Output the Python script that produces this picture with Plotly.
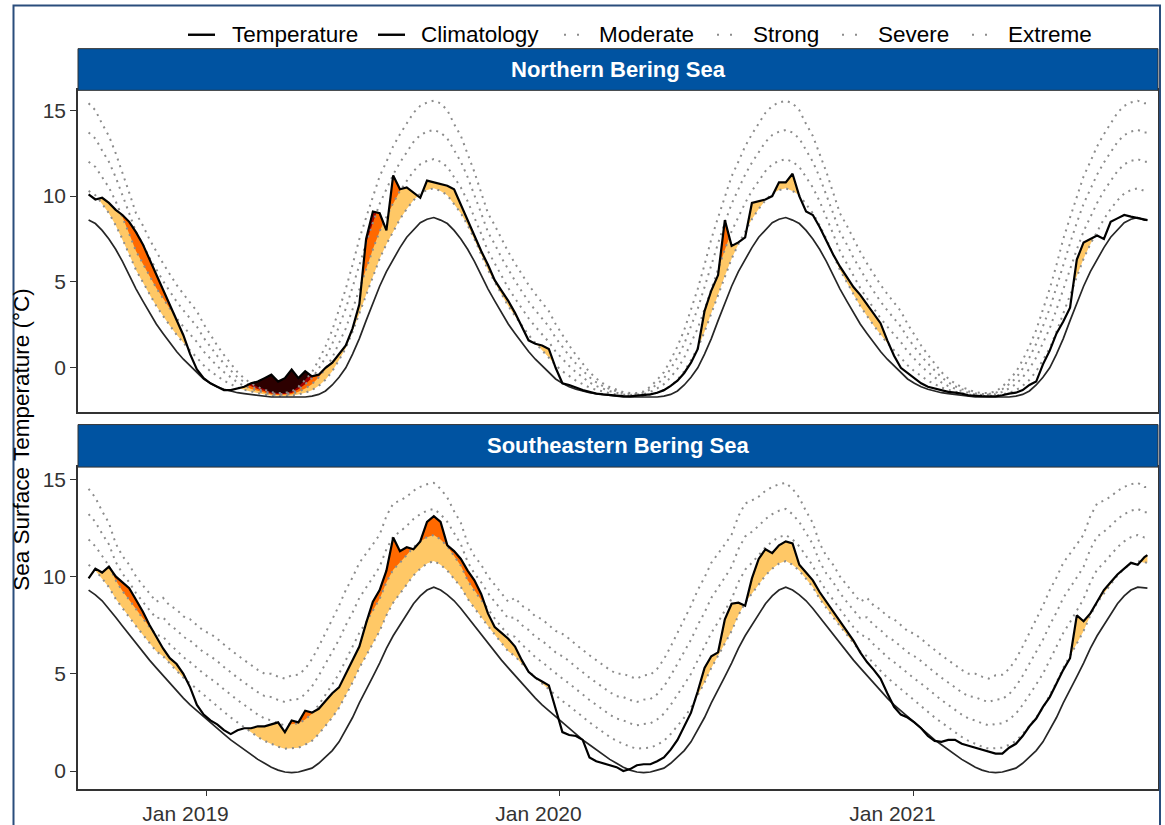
import plotly.graph_objects as go
import pandas as pd
import numpy as np

# ---------------- DATA ----------------
# weekly sampling dates (Sep 2018 - Aug 2021)
dates = list(pd.date_range("2018-09-01", periods=157, freq="7D")) + [pd.Timestamp("2021-08-31")]

nbs_temp = [10.1, 9.8, 9.9, 9.6, 9.2, 8.9, 8.5, 7.9, 7.2, 6.3,
            5.4, 4.6, 3.6, 2.8, 1.9, 0.8, -0.1, -0.6, -0.9, -1.1,
            -1.3, -1.3, -1.2, -1.1, -0.9, -0.8, -0.6, -0.4, -0.8, -0.6,
            -0.1, -0.6, -0.2, -0.5, -0.4, 0.0, 0.3, 0.8, 1.3, 2.3,
            3.7, 7.5, 9.1, 9.0, 8.0, 11.2, 10.4, 10.5, 10.2, 9.9,
            10.9, 10.8, 10.7, 10.6, 10.4, 9.5, 8.6, 7.6, 6.8, 6.0,
            5.1, 4.5, 3.9, 3.2, 2.4, 1.6, 1.4, 1.3, 1.1, 0.0,
            -0.9, -1.0, -1.15, -1.3, -1.4, -1.5, -1.55, -1.6, -1.62, -1.65,
            -1.66, -1.62, -1.6, -1.55, -1.45, -1.3, -1.05, -0.75, -0.3, 0.3,
            1.1, 3.3, 4.5, 5.4, 8.6, 7.1, 7.3, 7.6, 9.6, 9.7,
            9.8, 10.0, 10.8, 10.8, 11.3, 10.0, 9.1, 8.9, 8.2, 7.4,
            6.6, 5.9, 5.3, 4.7, 4.25, 3.7, 3.2, 2.6, 1.6, 0.7,
            0.0, -0.3, -0.6, -0.9, -1.1, -1.2, -1.3, -1.4, -1.45, -1.5,
            -1.6, -1.64, -1.65, -1.66, -1.66, -1.6, -1.5, -1.45, -1.3, -1.0,
            -0.8, 0.2, 1.0, 2.0, 2.7, 3.5, 6.3, 7.3, 7.5, 7.7,
            7.5, 8.5, 8.7, 8.9, 8.8, 8.7, 8.6, 8.6]

nbs_clim = [8.6, 8.4, 8.0, 7.5, 6.9, 6.2, 5.4, 4.6, 3.9, 3.2, 2.55, 2.0, 1.45, 0.95, 0.5, 0.1,
            -0.3, -0.65, -0.9, -1.1, -1.25, -1.35, -1.45, -1.5, -1.55, -1.6, -1.65, -1.7, -1.7, -1.7,
            -1.7, -1.7, -1.7, -1.65, -1.55, -1.35, -1.0, -0.55, 0.0, 0.8, 1.7, 2.75, 3.8, 4.75, 5.6,
            6.3, 7.0, 7.6, 8.05, 8.45, 8.65, 8.75,
            8.6, 8.4, 8.0, 7.5, 6.9, 6.2, 5.4, 4.6, 3.9, 3.2, 2.55, 2.0, 1.45, 0.95, 0.5, 0.1,
            -0.3, -0.65, -0.9, -1.1, -1.25, -1.35, -1.45, -1.5, -1.55, -1.6, -1.65, -1.7, -1.7, -1.7,
            -1.7, -1.7, -1.7, -1.65, -1.55, -1.35, -1.0, -0.55, 0.0, 0.8, 1.7, 2.75, 3.8, 4.75, 5.6,
            6.3, 7.0, 7.6, 8.05, 8.45, 8.65, 8.75,
            8.6, 8.4, 8.0, 7.5, 6.9, 6.2, 5.4, 4.6, 3.9, 3.2, 2.55, 2.0, 1.45, 0.95, 0.5, 0.1,
            -0.3, -0.65, -0.9, -1.1, -1.25, -1.35, -1.45, -1.5, -1.55, -1.6, -1.65, -1.7, -1.7, -1.7,
            -1.7, -1.7, -1.7, -1.65, -1.55, -1.35, -1.0, -0.55, 0.0, 0.8, 1.7, 2.75, 3.8, 4.75, 5.6,
            6.3, 7.0, 7.6, 8.05, 8.45, 8.65, 8.75,
            8.6, 8.6]

nbs_thresh = [10.3, 10.05, 9.55, 9.0, 8.3, 7.5, 6.6, 5.7, 5.0, 4.27, 3.6, 3.02, 2.45, 1.92, 1.45, 1.02,
              0.6, 0.15, -0.2, -0.5, -0.75, -0.95, -1.15, -1.28, -1.39, -1.48, -1.55, -1.63, -1.64, -1.64,
              -1.62, -1.55, -1.45, -1.3, -1.05, -0.7, -0.2, 0.45, 1.15, 2.1, 3.15, 4.25, 5.35, 6.35, 7.2,
              7.95, 8.65, 9.25, 9.75, 10.15, 10.35, 10.45,
              10.3, 10.05, 9.55, 9.0, 8.3, 7.5, 6.6, 5.7, 5.0, 4.27, 3.6, 3.02, 2.45, 1.92, 1.45, 1.02,
              0.6, 0.15, -0.2, -0.5, -0.75, -0.95, -1.15, -1.28, -1.39, -1.48, -1.55, -1.63, -1.64, -1.64,
              -1.62, -1.55, -1.45, -1.3, -1.05, -0.7, -0.2, 0.45, 1.15, 2.1, 3.15, 4.25, 5.35, 6.35, 7.2,
              7.95, 8.65, 9.25, 9.75, 10.15, 10.35, 10.45,
              10.3, 10.05, 9.55, 9.0, 8.3, 7.5, 6.6, 5.7, 5.0, 4.27, 3.6, 3.02, 2.45, 1.92, 1.45, 1.02,
              0.6, 0.15, -0.2, -0.5, -0.75, -0.95, -1.15, -1.28, -1.39, -1.48, -1.55, -1.63, -1.64, -1.64,
              -1.62, -1.55, -1.45, -1.3, -1.05, -0.7, -0.2, 0.45, 1.15, 2.1, 3.15, 4.25, 5.35, 6.35, 7.2,
              7.95, 8.65, 9.25, 9.75, 10.15, 10.35, 10.45,
              10.3, 10.3]

sebs_temp = [9.9, 10.4, 10.2, 10.5, 10.0, 9.7, 9.4, 8.8, 8.2, 7.5,
             6.9, 6.3, 5.8, 5.5, 5.0, 4.3, 3.4, 2.9, 2.6, 2.4,
             2.1, 1.9, 2.1, 2.2, 2.2, 2.3, 2.3, 2.4, 2.5, 2.0,
             2.6, 2.5, 3.1, 3.0, 3.2, 3.6, 4.0, 4.3, 5.0, 5.7,
             6.4, 7.6, 8.7, 9.3, 10.3, 12.0, 11.3, 11.5, 11.4, 11.8,
             12.8, 13.1, 12.8, 11.6, 11.3, 10.9, 10.3, 9.8, 9.1, 8.1,
             7.4, 7.1, 6.8, 6.4, 5.7, 5.1, 4.8, 4.6, 4.4, 3.2,
             2.0, 1.85, 1.8, 1.6, 0.7, 0.5, 0.4, 0.3, 0.2, 0.0,
             0.1, 0.3, 0.35, 0.35, 0.5, 0.7, 1.1, 1.6, 2.3, 3.0,
             4.1, 5.3, 5.9, 6.1, 7.8, 8.6, 8.65, 8.5, 9.9, 10.9,
             11.4, 11.2, 11.6, 11.8, 11.7, 10.6, 10.2, 9.8, 9.2, 8.7,
             8.2, 7.7, 7.2, 6.7, 6.1, 5.6, 5.2, 4.75, 4.0, 3.3,
             2.9, 2.75, 2.5, 2.2, 1.8, 1.55, 1.5, 1.6, 1.6, 1.4,
             1.3, 1.2, 1.1, 1.0, 0.9, 0.9, 1.2, 1.4, 1.8, 2.3,
             2.7, 3.3, 3.8, 4.5, 5.2, 5.8, 8.0, 7.7, 8.1, 8.7,
             9.3, 9.7, 10.1, 10.4, 10.7, 10.6, 11.0, 11.1]

sebs_clim = [9.3, 9.05, 8.75, 8.35, 7.9, 7.45, 7.0, 6.6, 6.15, 5.7, 5.3, 4.9, 4.5, 4.1, 3.75, 3.4,
             3.1, 2.8, 2.45, 2.2, 1.9, 1.6, 1.35, 1.1, 0.85, 0.6, 0.4, 0.2, 0.05, -0.05, -0.08, -0.05,
             0.05, 0.15, 0.4, 0.7, 1.05, 1.5, 2.1, 2.75, 3.5, 4.15, 4.85, 5.55, 6.3, 6.95, 7.5, 8.1,
             8.6, 9.0, 9.3, 9.45,
             9.3, 9.05, 8.75, 8.35, 7.9, 7.45, 7.0, 6.6, 6.15, 5.7, 5.3, 4.9, 4.5, 4.1, 3.75, 3.4,
             3.1, 2.8, 2.45, 2.2, 1.9, 1.6, 1.35, 1.1, 0.85, 0.6, 0.4, 0.2, 0.05, -0.05, -0.08, -0.05,
             0.05, 0.15, 0.4, 0.7, 1.05, 1.5, 2.1, 2.75, 3.5, 4.15, 4.85, 5.55, 6.3, 6.95, 7.5, 8.1,
             8.6, 9.0, 9.3, 9.45,
             9.3, 9.05, 8.75, 8.35, 7.9, 7.45, 7.0, 6.6, 6.15, 5.7, 5.3, 4.9, 4.5, 4.1, 3.75, 3.4,
             3.1, 2.8, 2.45, 2.2, 1.9, 1.6, 1.35, 1.1, 0.85, 0.6, 0.4, 0.2, 0.05, -0.05, -0.08, -0.05,
             0.05, 0.15, 0.4, 0.7, 1.05, 1.5, 2.1, 2.75, 3.5, 4.15, 4.85, 5.55, 6.3, 6.95, 7.5, 8.1,
             8.6, 9.0, 9.3, 9.45,
             9.4, 9.4]

sebs_thresh = [10.6, 10.3, 9.9, 9.45, 8.85, 8.35, 7.9, 7.45, 7.0, 6.55, 6.15, 5.9, 5.5, 5.15, 4.8, 4.5,
               4.2, 3.9, 3.6, 3.35, 3.05, 2.75, 2.5, 2.25, 2.0, 1.75, 1.55, 1.4, 1.25, 1.15, 1.17, 1.2,
               1.35, 1.55, 1.9, 2.3, 2.75, 3.25, 3.9, 4.55, 5.3, 5.9, 6.55, 7.2, 8.0, 8.65, 9.1, 9.6,
               10.05, 10.4, 10.66, 10.79,
               10.6, 10.3, 9.9, 9.45, 8.85, 8.35, 7.9, 7.45, 7.0, 6.55, 6.15, 5.9, 5.5, 5.15, 4.8, 4.5,
               4.2, 3.9, 3.6, 3.35, 3.05, 2.75, 2.5, 2.25, 2.0, 1.75, 1.55, 1.4, 1.25, 1.15, 1.17, 1.2,
               1.35, 1.55, 1.9, 2.3, 2.75, 3.25, 3.9, 4.55, 5.3, 5.9, 6.55, 7.2, 8.0, 8.65, 9.1, 9.6,
               10.05, 10.4, 10.66, 10.79,
               10.6, 10.3, 9.9, 9.45, 8.85, 8.35, 7.9, 7.45, 7.0, 6.55, 6.15, 5.9, 5.5, 5.15, 4.8, 4.5,
               4.2, 3.9, 3.6, 3.35, 3.05, 2.75, 2.5, 2.25, 2.0, 1.75, 1.55, 1.4, 1.25, 1.15, 1.17, 1.2,
               1.35, 1.55, 1.9, 2.3, 2.75, 3.25, 3.9, 4.55, 5.3, 5.9, 6.55, 7.2, 8.0, 8.65, 9.1, 9.6,
               10.05, 10.4, 10.66, 10.79,
               10.7, 10.7]

panel_titles = ["Northern Bering Sea", "Southeastern Bering Sea"]
category_names = ["Moderate", "Strong", "Severe", "Extreme"]
category_colors = ["#ffc866", "#ff6900", "#9e0000", "#2d0000"]
tick_dates = ["2019-01-01", "2020-01-01", "2021-01-01"]
tick_labels = ["Jan 2019", "Jan 2020", "Jan 2021"]
y_ticks = [0, 5, 10, 15]

# ---------------- GEOMETRY ----------------
W, H = 1165, 825
FONT = "Liberation Sans, Arial, Helvetica, sans-serif"
def px_x(p): return p / W
def px_y(p): return 1 - p / H

x_dom = [px_x(78), px_x(1158)]
panel_dom = [[px_y(415), px_y(91)], [px_y(794.3), px_y(470.5)]]
strip_px = [(49, 91), (427.7, 470.5)]
y_ranges = [[-2.572, 16.156], [-0.898, 15.62]]
x_range = ["2018-08-21 01:00", "2021-09-10 23:00"]

# ---------------- helpers ----------------
epoch = pd.Timestamp("1970-01-01")
xnum = np.array([(d - epoch) / pd.Timedelta(days=1) for d in dates])

def to_dt(v):
    return (epoch + pd.Timedelta(days=float(v))).strftime("%Y-%m-%d %H:%M:%S")

def flame(temp, lev):
    """polygons between lev and temp where temp > lev (like geom_flame)"""
    xs, ys = [], []
    top, bot = [], []
    def flush():
        if len(top) >= 2:
            pts = top + bot[::-1]
            for (a, b) in pts:
                xs.append(to_dt(a)); ys.append(b)
            xs.append(to_dt(pts[0][0])); ys.append(pts[0][1])
            xs.append(None); ys.append(None)
    for i in range(len(xnum)):
        d = temp[i] - lev[i]
        if i > 0:
            dp = temp[i - 1] - lev[i - 1]
            if (dp > 0) != (d > 0) and dp != d:
                t = dp / (dp - d)
                xc = xnum[i - 1] + t * (xnum[i] - xnum[i - 1])
                yc = temp[i - 1] + t * (temp[i] - temp[i - 1])
                top.append((xc, yc)); bot.append((xc, yc))
                if dp > 0:
                    flush(); top, bot = [], []
        if d > 0:
            top.append((xnum[i], temp[i])); bot.append((xnum[i], lev[i]))
    flush()
    return xs, ys

fig = go.Figure()
series = [(nbs_temp, nbs_clim, nbs_thresh), (sebs_temp, sebs_clim, sebs_thresh)]
for p, (temp, clim, thr) in enumerate(series):
    temp = np.array(temp); clim = np.array(clim); thr = np.array(thr)
    diff = thr - clim
    levels = [clim + n * diff for n in (1, 2, 3, 4)]
    xa = "x" if p == 0 else "x2"
    ya = "y" if p == 0 else "y2"
    for lev, col in zip(levels, category_colors):
        fx, fy = flame(temp, lev)
        if fx:
            fig.add_trace(go.Scatter(x=fx, y=fy, mode="lines", fill="toself", fillcolor=col,
                                     line=dict(width=0, color=col), hoverinfo="skip",
                                     showlegend=False, xaxis=xa, yaxis=ya))
    for lev in levels:
        fig.add_trace(go.Scatter(x=dates, y=lev, mode="lines",
                                 line=dict(color="#8c8c8c", width=2, dash="2px,5px"),
                                 showlegend=False, hoverinfo="skip", xaxis=xa, yaxis=ya))
    fig.add_trace(go.Scatter(x=dates, y=clim, mode="lines", line=dict(color="#262626", width=1.7),
                             showlegend=False, xaxis=xa, yaxis=ya))
    fig.add_trace(go.Scatter(x=dates, y=temp, mode="lines", line=dict(color="black", width=2.2),
                             showlegend=False, xaxis=xa, yaxis=ya))

axis_common = dict(showline=True, mirror=True, linecolor="#333333", linewidth=1.5,
                   showgrid=False, zeroline=False)
fig.update_layout(
    width=W, height=H, autosize=False,
    margin=dict(l=0, r=0, t=0, b=0),
    paper_bgcolor="white", plot_bgcolor="white",
    font=dict(family=FONT, color="black"),
    xaxis=dict(domain=x_dom, anchor="y", type="date", range=x_range,
               showticklabels=False, ticks="", **axis_common),
    yaxis=dict(domain=panel_dom[0], anchor="x", range=y_ranges[0], tickvals=y_ticks,
               ticks="outside", ticklen=6, tickcolor="#333333", tickwidth=1.2,
               tickfont=dict(size=21, color="#333333", family=FONT), **axis_common),
    xaxis2=dict(domain=x_dom, anchor="y2", type="date", range=x_range,
                tickvals=tick_dates, ticktext=tick_labels, ticks="outside", ticklen=6,
                tickcolor="#333333", tickwidth=1.2, ticklabelshift=-21,
                tickfont=dict(size=21, color="#333333", family=FONT), **axis_common),
    yaxis2=dict(domain=panel_dom[1], anchor="x2", range=y_ranges[1], tickvals=y_ticks,
                ticks="outside", ticklen=6, tickcolor="#333333", tickwidth=1.2,
                tickfont=dict(size=21, color="#333333", family=FONT), **axis_common),
)

shapes = []
annotations = []
# facet strips
for (t0, t1), title in zip(strip_px, panel_titles):
    shapes.append(dict(type="rect", xref="paper", yref="paper", x0=x_dom[0], x1=x_dom[1],
                       y0=px_y(t1), y1=px_y(t0), fillcolor="#0053a1",
                       line=dict(color="#333333", width=1)))
    annotations.append(dict(xref="paper", yref="paper", x=(x_dom[0] + x_dom[1]) / 2,
                            y=px_y((t0 + t1) / 2), text="<b>%s</b>" % title, showarrow=False,
                            xanchor="center", yanchor="middle",
                            font=dict(size=22, color="white", family=FONT)))
# outer frame
shapes.append(dict(type="rect", xref="paper", yref="paper", x0=px_x(13.5), x1=px_x(1160),
                   y0=-0.02, y1=px_y(5.5), line=dict(color="#2a4d7c", width=2),
                   fillcolor="rgba(0,0,0,0)"))
# legend (manual)
ly = px_y(35)
leg = [("Temperature", 188, 230, "solid"), ("Climatology", 378, 419, "solid"),
       ("Moderate", 557, 597, "dot"), ("Strong", 710, 751, "dot"),
       ("Severe", 835, 876, "dot"), ("Extreme", 965, 1006, "dot")]
for name, l0, tx, kind in leg:
    if kind == "solid":
        shapes.append(dict(type="line", xref="paper", yref="paper", x0=px_x(l0), x1=px_x(l0 + 27),
                           y0=ly, y1=ly, line=dict(color="black", width=2.4)))
    else:
        shapes.append(dict(type="line", xref="paper", yref="paper", x0=px_x(l0 + 7), x1=px_x(l0 + 22),
                           y0=ly, y1=ly, line=dict(color="#8c8c8c", width=2, dash="2px,11px")))
    annotations.append(dict(xref="paper", yref="paper", x=px_x(tx), y=ly, text=name,
                            showarrow=False, xanchor="left", yanchor="middle",
                            font=dict(size=22.5, color="black", family=FONT)))
# y title
annotations.append(dict(xref="paper", yref="paper", x=px_x(22), y=px_y(443),
                        text="Sea Surface Temperature (°C)", textangle=-90, showarrow=False,
                        xanchor="center", yanchor="middle",
                        font=dict(size=22.5, color="black", family=FONT)))
fig.update_layout(shapes=shapes, annotations=annotations)

fig.write_html("out.html", config={"displayModeBar": False},
               post_script="document.body.style.margin='0px';document.body.style.padding='0px';")
